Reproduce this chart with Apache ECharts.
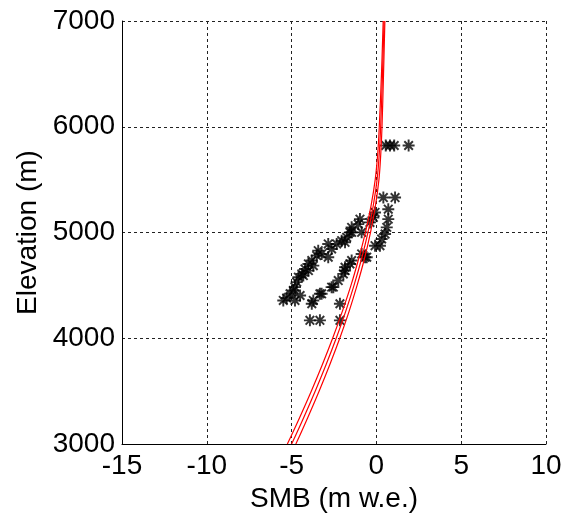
<!DOCTYPE html>
<html>
<head>
<meta charset="utf-8">
<style>
  html, body { margin: 0; padding: 0; background: #fff; }
  #chart { width: 566px; height: 518px; }
</style>
<script src="https://cdn.jsdelivr.net/npm/echarts@6/dist/echarts.min.js"></script>
</head>
<body>
<div id="chart"></div>
<script>
// Axis ticks
const xTicks = [-15, -10, -5, 0, 5, 10];
const yTicks = [3000, 4000, 5000, 6000, 7000];

// Observed surface mass balance (m w.e.) and elevation (m)
const obsSMB = [
  0.55, 0.8, 1.05, 1.9,
  0.41, 1.10, 0.70, -0.08, -0.18, 0.70, 0.61, 0.51, 0.31, 0.21,
  -0.97, -1.07, -0.87, -1.46, -1.85, -0.08, -0.87, -0.67, -1.56, -1.85,
  -0.38, -0.57,
  -1.46, -1.56, -1.75, -2.05, -2.34, -2.84, -2.64, -2.84, -3.43, -3.52,
  -3.81, -4.01, -4.21, -4.40, -4.60, -4.70, -4.80, -4.90, -5.09, -5.29,
  -4.80, -4.50, -4.31, -4.01, -3.72, -3.23, -5.49,
  -1.46, -1.85, -1.95, -2.25, -2.54, -3.23, -3.72, -3.81, -3.33, -2.64, -2.15,
  -3.92, -3.33, -2.15
];
const obsElev = [
  5823, 5823, 5823, 5823,
  5331, 5331, 5221, 5190, 5143, 5127, 5049, 4986, 4939, 4876,
  5127, 5080, 5002, 5002, 4908, 4876, 4798, 4767, 4703, 4640,
  5096, 4767,
  5049, 5002, 4955, 4923, 4892, 4892, 4845, 4767, 4829, 4782,
  4735, 4703, 4656, 4609, 4578, 4531, 4484, 4452, 4421, 4381,
  4358, 4405, 4593, 4640, 4687, 4798, 4358,
  4735, 4672, 4609, 4546, 4484, 4421, 4358, 4327, 4421, 4484, 4327,
  4170, 4170, 4170
];

// Modelled SMB profiles at fixed elevations
const profileElev = [3000, 3250, 3500, 3750, 4000, 4250, 4500, 4750, 5000, 5250, 5500, 5750, 6000, 6500, 7000];
const profileA = [-5.25, -4.53, -3.84, -3.19, -2.58, -2.02, -1.50, -1.05, -0.65, -0.32, -0.07, 0.08, 0.17, 0.30, 0.40];
const profileB = [-5.00, -4.29, -3.61, -2.97, -2.37, -1.82, -1.32, -0.88, -0.50, -0.19, 0.04, 0.17, 0.25, 0.36, 0.45];
const profileC = [-4.75, -4.05, -3.38, -2.75, -2.16, -1.62, -1.14, -0.71, -0.35, -0.06, 0.15, 0.26, 0.33, 0.42, 0.50];

// Asterisk marker: vertical, horizontal and two diagonal bars
const asterisk = 'path://' +
  'M-1.6,-10L1.6,-10L1.6,10L-1.6,10Z' +
  'M-10,-1.6L10,-1.6L10,1.6L-10,1.6Z' +
  'M-6,-8.3L8.3,6L6,8.3L-8.3,-6Z' +
  'M6,-8.3L8.3,-6L-6,8.3L-8.3,6Z';

const font = '"Liberation Sans", Arial, sans-serif';

function pairs(xs, ys) {
  return xs.map((x, i) => [x, ys[i]]);
}

function profileSeries(values) {
  return {
    type: 'line',
    data: pairs(values, profileElev),
    smooth: 0.4,
    symbol: 'none',
    lineStyle: { color: '#ff0000', width: 1.2 },
    z: 3,
    animation: false
  };
}

const chart = echarts.init(document.getElementById('chart'), null, { renderer: 'canvas' });

chart.setOption({
  animation: false,
  backgroundColor: '#ffffff',
  grid: { left: 122, top: 21, right: 20, bottom: 72, containLabel: false },
  xAxis: {
    type: 'value',
    min: xTicks[0],
    max: xTicks[xTicks.length - 1],
    interval: 5,
    name: 'SMB (m w.e.)',
    nameLocation: 'middle',
    nameGap: 40,
    nameTextStyle: { color: '#000', fontSize: 28, fontFamily: font },
    axisLine: { show: true, onZero: false, lineStyle: { color: '#000', width: 1 } },
    axisTick: { show: false },
    axisLabel: { color: '#000', fontSize: 28, fontFamily: font, margin: 8, formatter: v => String(v) },
    splitLine: { show: true, lineStyle: { color: '#222', width: 1, type: [3, 3] } }
  },
  yAxis: {
    type: 'value',
    min: yTicks[0],
    max: yTicks[yTicks.length - 1],
    interval: 1000,
    name: 'Elevation (m)',
    nameLocation: 'middle',
    nameGap: 80,
    nameTextStyle: { color: '#000', fontSize: 28, fontFamily: font },
    axisLine: { show: true, onZero: false, lineStyle: { color: '#000', width: 1 } },
    axisTick: { show: false },
    axisLabel: { color: '#000', fontSize: 28, fontFamily: font, margin: 7, formatter: v => String(v) },
    splitLine: { show: true, lineStyle: { color: '#222', width: 1, type: [3, 3] } }
  },
  series: [
    {
      type: 'scatter',
      data: pairs(obsSMB, obsElev),
      symbol: asterisk,
      symbolSize: 12,
      itemStyle: { color: '#000' },
      z: 2,
      animation: false
    },
    profileSeries(profileA),
    profileSeries(profileB),
    profileSeries(profileC)
  ]
});
</script>
</body>
</html>
